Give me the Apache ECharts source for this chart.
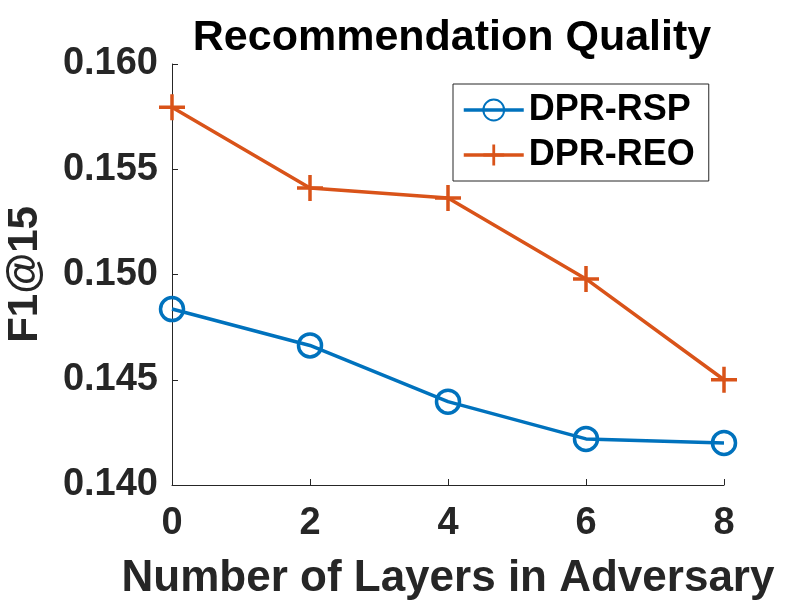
<!DOCTYPE html>
<html lang="en">
<head>
  <meta charset="UTF-8" />
  <title>Recommendation Quality</title>
  <script src="https://cdn.jsdelivr.net/npm/echarts@6.0.0/dist/echarts.min.js"></script>
  <style>
    html, body { margin: 0; padding: 0; background: #fff; }
    #chart { width: 800px; height: 600px; }
  </style>
</head>
<body>
  <div id="chart"></div>

  <script>
    // data
    const layers = [0, 2, 4, 6, 8];
    const rsp = [0.14836, 0.14663, 0.14396, 0.14219, 0.14200];
    const reo = [0.15794, 0.15411, 0.15363, 0.14979, 0.14500];
    const seriesNames = ['DPR-RSP', 'DPR-REO'];

    const FONT = '"Liberation Sans", Arial, Helvetica, sans-serif';
    const AXIS = '#262626';
    const BLUE = '#0072BD';
    const ORANGE = '#D95319';
    // filled plus shape (MATLAB '+' marker)
    const PLUS = 'path://M-1.75,-13 H1.75 V-1.75 H13 V1.75 H1.75 V13 H-1.75 V1.75 H-13 V-1.75 H-1.75 Z';

    const chart = echarts.init(document.getElementById('chart'));
    chart.setOption({
      animation: false,
      title: {
        text: 'Recommendation Quality',
        left: 447, top: 12, textAlign: 'center',
        textStyle: { fontFamily: FONT, fontSize: 43, fontWeight: 'bold', color: '#000' }
      },
      grid: { left: 172, right: 76, top: 64, bottom: 115, outerBoundsMode: 'none' },
      legend: {
        orient: 'vertical',
        left: 453, top: 84,
        borderColor: AXIS, borderWidth: 1,
        padding: [8, 14, 8, 9],
        itemWidth: 60, itemHeight: 26, itemGap: 9,
        textStyle: { fontFamily: FONT, fontSize: 36, fontWeight: 'bold', color: '#000' },
        lineStyle: { width: 3.5 },
        data: seriesNames
      },
      xAxis: {
        type: 'value', min: 0, max: 8, interval: 2,
        name: 'Number of Layers in Adversary',
        nameLocation: 'middle', nameGap: 72,
        nameTextStyle: { fontFamily: FONT, fontSize: 44, fontWeight: 'bold', color: AXIS },
        axisLine: { lineStyle: { color: AXIS, width: 1 } },
        axisTick: { inside: true, length: 6, lineStyle: { color: AXIS } },
        axisLabel: { margin: 20, fontFamily: FONT, fontSize: 38, fontWeight: 'bold', color: AXIS },
        splitLine: { show: false }
      },
      yAxis: {
        type: 'value', min: 0.14, max: 0.16, interval: 0.005,
        name: 'F1@15',
        nameLocation: 'middle', nameGap: 126,
        nameTextStyle: { fontFamily: FONT, fontSize: 42, fontWeight: 'bold', color: AXIS },
        axisLine: { show: true, lineStyle: { color: AXIS, width: 1 } },
        axisTick: { show: true, inside: true, length: 6, lineStyle: { color: AXIS } },
        axisLabel: {
          margin: 14, fontFamily: FONT, fontSize: 38, fontWeight: 'bold', color: AXIS,
          formatter: v => v.toFixed(3)
        },
        splitLine: { show: false }
      },
      series: [
        {
          name: seriesNames[0], type: 'line',
          data: layers.map((x, i) => [x, rsp[i]]),
          symbol: 'circle', symbolSize: 23,
          lineStyle: { color: BLUE, width: 3.5 },
          itemStyle: { color: 'rgba(0,0,0,0)', borderColor: BLUE, borderWidth: 3.5 },
          z: 2
        },
        {
          name: seriesNames[1], type: 'line',
          data: layers.map((x, i) => [x, reo[i]]),
          symbol: PLUS, symbolSize: 26,
          lineStyle: { color: ORANGE, width: 3.5 },
          itemStyle: { color: ORANGE },
          z: 3
        }
      ]
    });
  </script>
</body>
</html>
